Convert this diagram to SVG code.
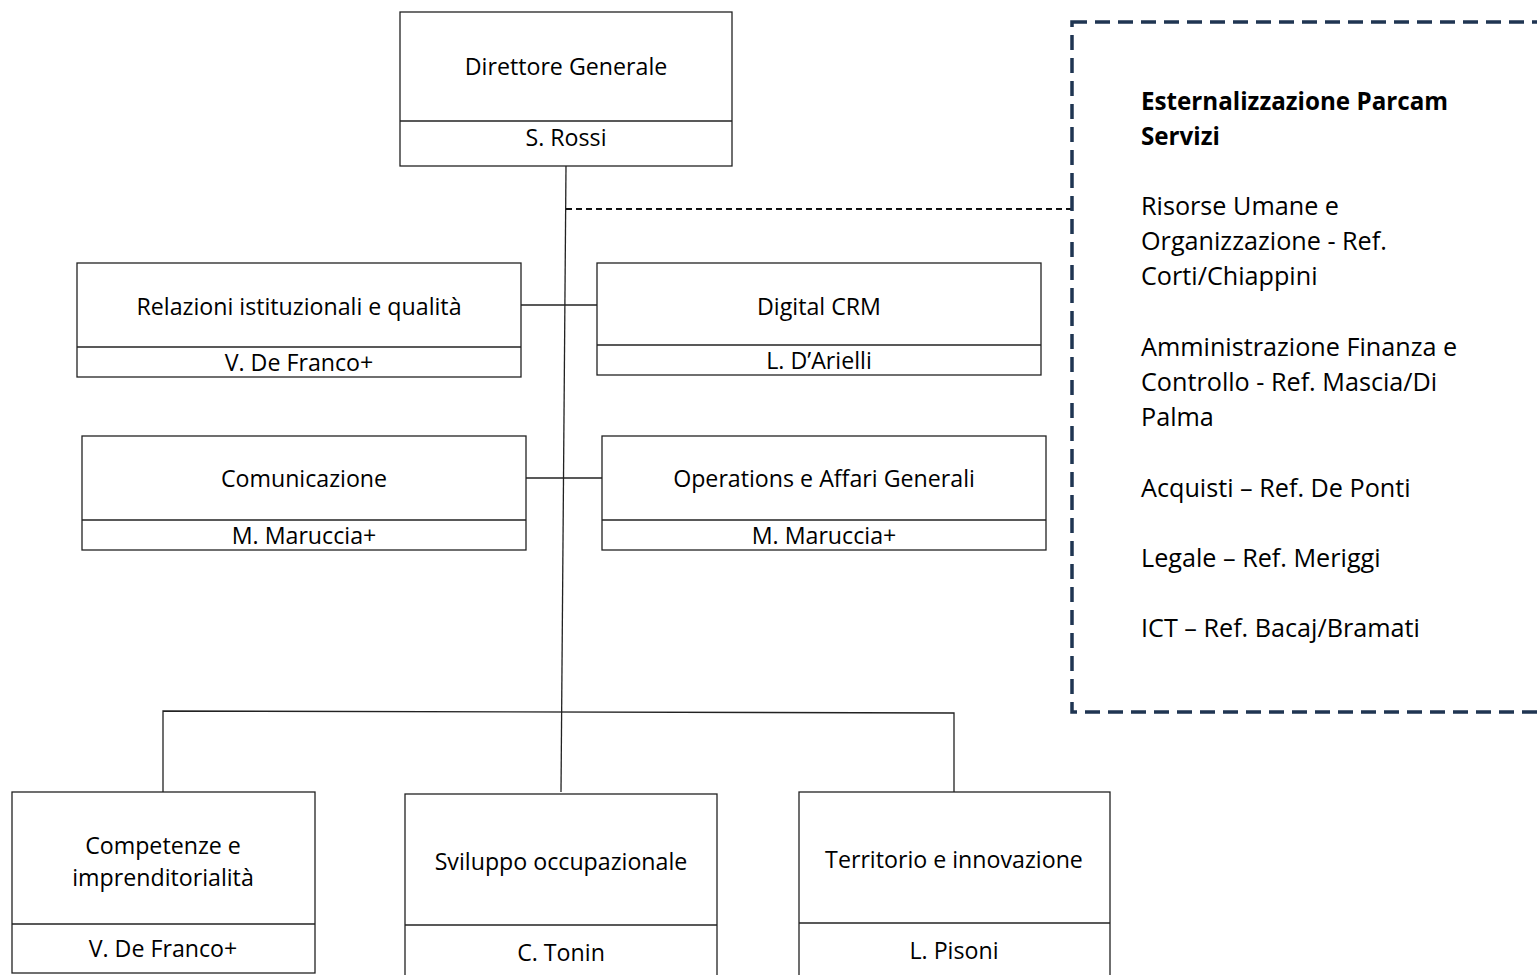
<svg xmlns="http://www.w3.org/2000/svg" width="1537" height="975" viewBox="0 0 1537 975">
<style>
.box{fill:#fff;stroke:#222;stroke-width:1.3}
.div{stroke:#222;stroke-width:1.3}
.t{font-family:"Open Sans",Lato,sans-serif;font-size:23.2px;fill:#000;text-anchor:middle}
.s{font-family:"Open Sans",Lato,sans-serif;font-size:25.2px;fill:#000}
.b{font-weight:bold;font-size:24.2px}
.ln{stroke:#222;stroke-width:1.3;fill:none}
</style>
<rect width="1537" height="975" fill="#fff"/>
<g id="connectors">
<path class="ln" d="M566 166 L561 792"/>
<path class="ln" d="M521 305 H597"/>
<path class="ln" d="M526 478 H602"/>
<path class="ln" d="M163 792 V711 L954 713 V792"/>
<path d="M566 209 H1072" stroke="#111" stroke-width="1.8" stroke-dasharray="6 4" fill="none"/>
</g>
<g id="dg">
<rect class="box" x="400" y="12" width="332" height="154"/>
<line class="div" x1="400" y1="121" x2="732" y2="121"/>
<text class="t" x="566" y="75">Direttore Generale</text>
<text class="t" x="566" y="146">S. Rossi</text>
</g>
<g id="relazioni">
<rect class="box" x="77" y="263" width="444" height="114"/>
<line class="div" x1="77" y1="347" x2="521" y2="347"/>
<text class="t" x="299" y="315">Relazioni istituzionali e qualità</text>
<text class="t" x="299" y="371">V. De Franco+</text>
</g>
<g id="digital">
<rect class="box" x="597" y="263" width="444" height="112"/>
<line class="div" x1="597" y1="345" x2="1041" y2="345"/>
<text class="t" x="819" y="315">Digital CRM</text>
<text class="t" x="819" y="369">L. D’Arielli</text>
</g>
<g id="comunicazione">
<rect class="box" x="82" y="436" width="444" height="114"/>
<line class="div" x1="82" y1="520" x2="526" y2="520"/>
<text class="t" x="304" y="487">Comunicazione</text>
<text class="t" x="304" y="544">M. Maruccia+</text>
</g>
<g id="operations">
<rect class="box" x="602" y="436" width="444" height="114"/>
<line class="div" x1="602" y1="520" x2="1046" y2="520"/>
<text class="t" x="824" y="487">Operations e Affari Generali</text>
<text class="t" x="824" y="544">M. Maruccia+</text>
</g>
<g id="competenze">
<rect class="box" x="12" y="792" width="303" height="181"/>
<line class="div" x1="12" y1="924" x2="315" y2="924"/>
<text class="t" x="163" y="854">Competenze e</text>
<text class="t" x="163" y="886">imprenditorialità</text>
<text class="t" x="163" y="957">V. De Franco+</text>
</g>
<g id="sviluppo">
<rect class="box" x="405" y="794" width="312" height="185"/>
<line class="div" x1="405" y1="925" x2="717" y2="925"/>
<text class="t" x="561" y="870">Sviluppo occupazionale</text>
<text class="t" x="561" y="961">C. Tonin</text>
</g>
<g id="territorio">
<rect class="box" x="799" y="792" width="311" height="187"/>
<line class="div" x1="799" y1="923" x2="1110" y2="923"/>
<text class="t" x="954" y="868">Territorio e innovazione</text>
<text class="t" x="954" y="959">L. Pisoni</text>
</g>
<g id="esternalizzazione">
<rect x="1072" y="22" width="520" height="690" fill="none" stroke="#1f3552" stroke-width="3.5" stroke-dasharray="15 8"/>
<text class="s b" x="1141" y="110">Esternalizzazione Parcam</text>
<text class="s b" x="1141" y="145">Servizi</text>
<text class="s" x="1141" y="215">Risorse Umane e</text>
<text class="s" x="1141" y="250">Organizzazione - Ref.</text>
<text class="s" x="1141" y="285">Corti/Chiappini</text>
<text class="s" x="1141" y="356">Amministrazione Finanza e</text>
<text class="s" x="1141" y="391">Controllo - Ref. Mascia/Di</text>
<text class="s" x="1141" y="426">Palma</text>
<text class="s" x="1141" y="497">Acquisti – Ref. De Ponti</text>
<text class="s" x="1141" y="567">Legale – Ref. Meriggi</text>
<text class="s" x="1141" y="637">ICT – Ref. Bacaj/Bramati</text>
</g>
</svg>
